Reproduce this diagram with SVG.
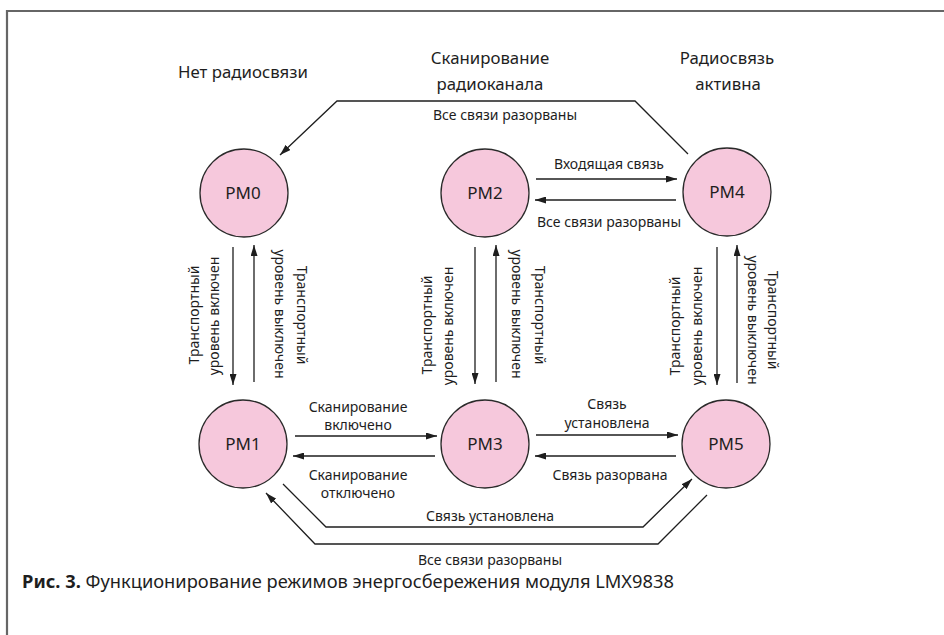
<svg xmlns="http://www.w3.org/2000/svg" width="944" height="635" viewBox="0 0 944 635">
<defs>
<marker id="ah" viewBox="0 0 11 7" refX="11" refY="3.5" markerWidth="11" markerHeight="7" markerUnits="userSpaceOnUse" orient="auto">
<path d="M0,0 L11,3.5 L0,7 z" fill="#1e1e1e"/>
</marker>
<style>
.frame{fill:none;stroke:#666;stroke-width:2.2}
.node circle{fill:#f6c8dc;stroke:#2a2a2a;stroke-width:1.3}
.node text{font-family:"Noto Sans","Open Sans",sans-serif;font-size:17px;fill:#1e1e1e;text-anchor:middle}
.conn path,.conn line{fill:none;stroke:#1e1e1e;stroke-width:1.3;marker-end:url(#ah)}
.lbl{font-family:"Noto Sans","Open Sans",sans-serif;font-size:14px;fill:#1e1e1e;text-anchor:middle}
.hdr{font-family:"Noto Sans","Open Sans",sans-serif;font-size:16.8px;fill:#1e1e1e;text-anchor:middle}
.cap{font-family:"Noto Sans","Open Sans",sans-serif;font-size:18.3px;fill:#1e1e1e}
</style>
</defs>
<rect width="944" height="635" fill="#fff"/>
<path class="frame" d="M7,640 L7,11 L950,11"/>

<g id="headers">
<text class="hdr" x="243" y="78">Нет радиосвязи</text>
<text class="hdr" x="490" y="64">Сканирование</text>
<text class="hdr" x="490" y="90">радиоканала</text>
<text class="hdr" x="727" y="64">Радиосвязь</text>
<text class="hdr" x="728" y="90">активна</text>
</g>

<g id="PM0" class="node"><circle cx="244" cy="193" r="44"/><text x="243" y="199">PM0</text></g>
<g id="PM2" class="node"><circle cx="485" cy="193" r="44"/><text x="485" y="199">PM2</text></g>
<g id="PM4" class="node"><circle cx="727" cy="192" r="44"/><text x="727" y="198">PM4</text></g>
<g id="PM1" class="node"><circle cx="243" cy="444" r="44"/><text x="243" y="450">PM1</text></g>
<g id="PM3" class="node"><circle cx="485" cy="444" r="44"/><text x="485" y="450">PM3</text></g>
<g id="PM5" class="node"><circle cx="726" cy="444" r="44"/><text x="726" y="450">PM5</text></g>

<g id="connectors" class="conn">
<path d="M688,154 L635,101 L337,101 L280,155"/>
<line x1="233" y1="247" x2="233" y2="385"/>
<line x1="254" y1="382" x2="254" y2="245"/>
<line x1="475" y1="247" x2="475" y2="384"/>
<line x1="496" y1="382" x2="496" y2="245"/>
<line x1="717" y1="247" x2="717" y2="385"/>
<line x1="737" y1="383" x2="737" y2="245"/>
<line x1="536" y1="179" x2="677" y2="179"/>
<line x1="676" y1="200" x2="535" y2="200"/>
<line x1="295" y1="436" x2="437" y2="436"/>
<line x1="435" y1="456" x2="293" y2="456"/>
<line x1="536" y1="435" x2="678" y2="435"/>
<line x1="676" y1="456" x2="535" y2="456"/>
<path d="M283,484 L326,527 L643,527 L692,479"/>
<path d="M707,495 L658,544 L315,544 L266,493"/>
</g>

<g id="labels">
<text class="lbl" x="505" y="120">Все связи разорваны</text>
<text class="lbl" x="609" y="169">Входящая связь</text>
<text class="lbl" x="609" y="227">Все связи разорваны</text>
<text class="lbl" x="358" y="412">Сканирование</text>
<text class="lbl" x="358" y="430">включено</text>
<text class="lbl" x="358" y="480">Сканирование</text>
<text class="lbl" x="358" y="498">отключено</text>
<text class="lbl" x="607" y="409">Связь</text>
<text class="lbl" x="607" y="428">установлена</text>
<text class="lbl" x="610" y="480">Связь разорвана</text>
<text class="lbl" x="490" y="521">Связь установлена</text>
<text class="lbl" x="490" y="565">Все связи разорваны</text>

<text class="lbl" transform="translate(194,315) rotate(-90)" y="5">Транспортный</text>
<text class="lbl" transform="translate(214,316) rotate(-90)" y="5">уровень включен</text>
<text class="lbl" transform="translate(302,315) rotate(90)" y="5">Транспортный</text>
<text class="lbl" transform="translate(280,314) rotate(90)" y="5">уровень выключен</text>

<text class="lbl" transform="translate(427,325) rotate(-90)" y="5">Транспортный</text>
<text class="lbl" transform="translate(448,326) rotate(-90)" y="5">уровень включен</text>
<text class="lbl" transform="translate(540,315) rotate(90)" y="5">Транспортный</text>
<text class="lbl" transform="translate(517,314) rotate(90)" y="5">уровень выключен</text>

<text class="lbl" transform="translate(675,326) rotate(-90)" y="5">Транспортный</text>
<text class="lbl" transform="translate(697,326) rotate(-90)" y="5">уровень включен</text>
<text class="lbl" transform="translate(773,320) rotate(90)" y="5">Транспортный</text>
<text class="lbl" transform="translate(753,320) rotate(90)" y="5">уровень выключен</text>
</g>

<text class="cap" x="22" y="588"><tspan font-weight="bold">Рис. 3.</tspan> Функционирование режимов энергосбережения модуля LMX9838</text>
</svg>
